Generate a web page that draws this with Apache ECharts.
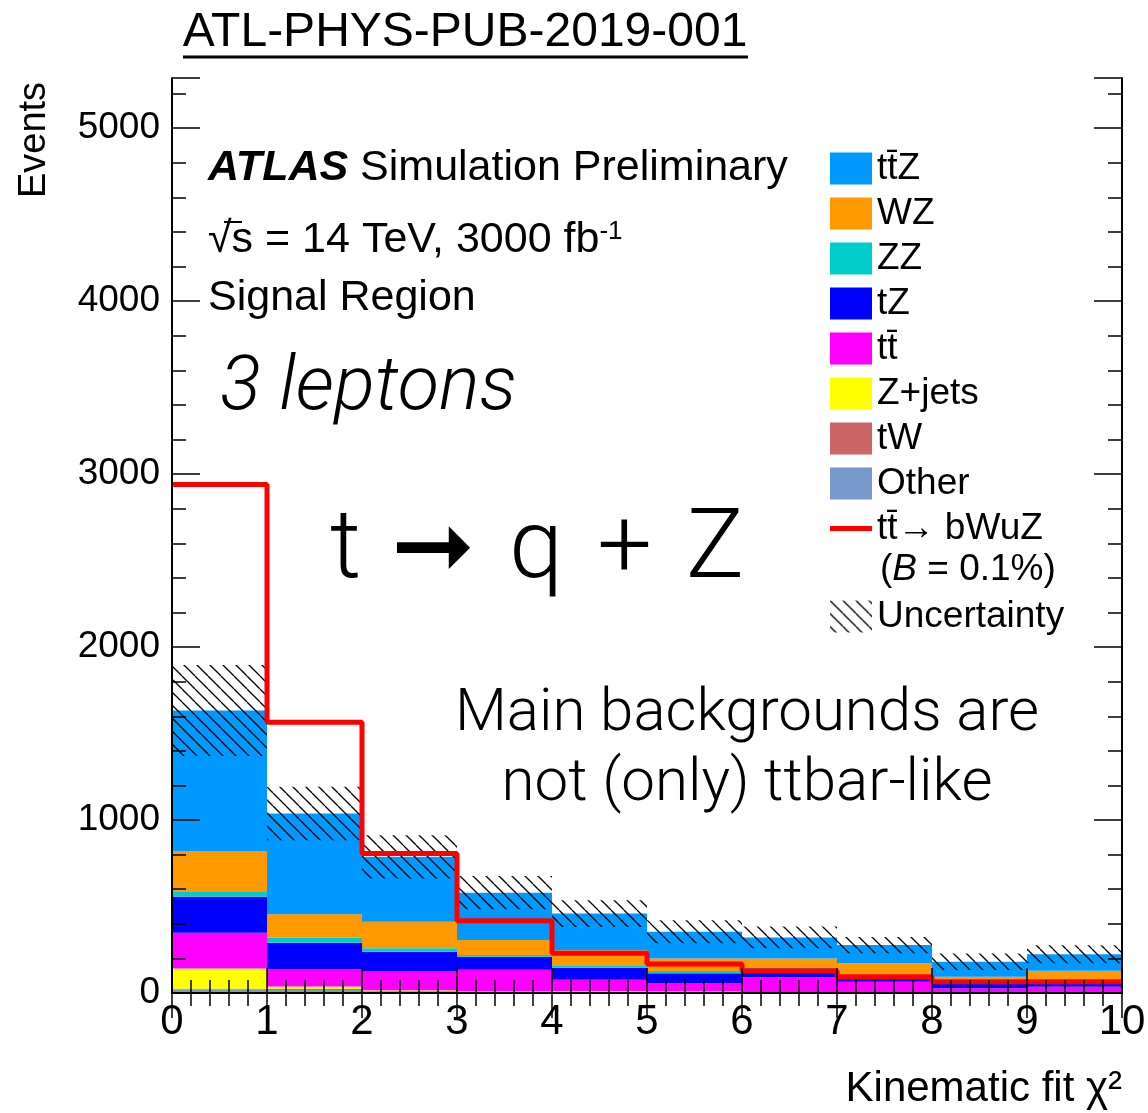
<!DOCTYPE html>
<html>
<head>
<meta charset="utf-8">
<script src="https://cdn.jsdelivr.net/npm/echarts@6/dist/echarts.min.js"></script>
<style>
  html, body { margin: 0; padding: 0; background: #ffffff; }
  #chart { width: 1148px; height: 1113px; }
</style>
</head>
<body>
<div id="chart"></div>
<script>
// Bin edges of the kinematic-fit chi2 histogram (10 bins of width 1)
const binEdges = [0, 1, 2, 3, 4, 5, 6, 7, 8, 9, 10];
const binLabels = ['0-1', '1-2', '2-3', '3-4', '4-5', '5-6', '6-7', '7-8', '8-9', '9-10'];

// Background yields per bin (events), stacked bottom to top
const other = [20, 18, 8, 6, 5, 3, 2, 1, 1, 1];
const tW    = [5, 5, 5, 4, 4, 3, 1, 1, 1, 1];
const zJets = [117, 15, 3, 2, 2, 2, 0, 0, 0, 0];
const ttbar = [207, 100, 111, 123, 66, 48, 88, 63, 25, 34];
const tZ    = [208, 152, 112, 75, 69, 58, 49, 33, 30, 22];
const zz    = [31, 29, 19, 10, 14, 13, 9, 7, 6, 6];
const wz    = [230, 137, 154, 86, 87, 73, 50, 67, 31, 65];
const ttZ   = [815, 582, 375, 274, 212, 154, 122, 105, 87, 95];

// Total background uncertainty per bin (events, symmetric)
const uncertainty = [263, 155, 125, 96, 77, 67, 63, 47, 48, 52];

// Signal: tt -> bWuZ with B = 0.1 %
const signal = [2940, 1565, 807, 418, 230, 168, 129, 94, 65, 65];

// Axis ticks
const yMajorTicks = [0, 1000, 2000, 3000, 4000, 5000];
const yMax = 5290;

const FONT = '"Liberation Sans", Arial, Helvetica, sans-serif';
const LIGHT = 'Roboto, "Noto Sans", sans-serif';

// Diagonal hatch used for the uncertainty band
function makeHatch(step) {
  const c = document.createElement('canvas');
  c.width = step; c.height = step;
  const g = c.getContext('2d');
  g.strokeStyle = '#000';
  g.lineWidth = 1.3;
  for (const o of [-step, 0, step]) {
    g.beginPath(); g.moveTo(o, 0); g.lineTo(o + step, step); g.stroke();
  }
  return c;
}
const hatch = { image: makeHatch(13), repeat: 'repeat' };

const layers = [
  { name: 'Other', data: other, color: '#7799cc' },
  { name: 'tW', data: tW, color: '#cc6666' },
  { name: 'Z+jets', data: zJets, color: '#ffff00' },
  { name: 'tt\u0304', data: ttbar, color: '#ff00ff' },
  { name: 'tZ', data: tZ, color: '#0000ff' },
  { name: 'ZZ', data: zz, color: '#00cccc' },
  { name: 'WZ', data: wz, color: '#ff9900' },
  { name: 'tt\u0304Z', data: ttZ, color: '#0099ff' }
];
const signalName = 'tt\u0304\u2192 bWuZ';

const totals = binLabels.map((_, i) => layers.reduce((s, l) => s + l.data[i], 0));
const bandData = binLabels.map((_, i) => [binEdges[i], binEdges[i + 1], totals[i] - uncertainty[i], totals[i] + uncertainty[i]]);
const signalSteps = binEdges.map((x, i) => [x, signal[Math.min(i, signal.length - 1)]]);

const barSeries = layers.map(l => ({
  name: l.name,
  type: 'bar',
  stack: 'bkg',
  xAxisIndex: 0,
  yAxisIndex: 0,
  barCategoryGap: '0%',
  barGap: '0%',
  data: l.data,
  itemStyle: { color: l.color, borderWidth: 0 },
  emphasis: { disabled: true },
  z: 2
}));

const blackLine = { show: true, lineStyle: { color: '#000', width: 2 } };

function xAxisValue(pos, labels) {
  return {
    type: 'value', position: pos, min: 0, max: 10, interval: 1,
    axisLine: blackLine,
    axisTick: { show: true, inside: true, length: 25, lineStyle: { color: '#000', width: 1.5 } },
    minorTick: { show: true, splitNumber: 5, length: 13, lineStyle: { color: '#000', width: 1.5 } },
    axisLabel: labels ? { show: true, fontFamily: FONT, fontSize: 42, color: '#000', margin: 8 } : { show: false },
    splitLine: { show: false }, minorSplitLine: { show: false },
    z: 10
  };
}
function yAxisMajor(pos, labels) {
  return {
    type: 'value', position: pos, min: 0, max: yMax, interval: 1000,
    axisLine: blackLine,
    axisTick: { show: true, inside: true, length: 28, lineStyle: { color: '#000', width: 1.5 } },
    axisLabel: labels ? {
      show: true, fontFamily: FONT, fontSize: 37, color: '#000', margin: 12,
      formatter: v => (yMajorTicks.indexOf(v) >= 0 ? String(v) : '')
    } : { show: false },
    splitLine: { show: false },
    z: 10
  };
}
function yAxisMinor(pos) {
  return {
    type: 'value', position: pos, min: 0, max: yMax, interval: 200,
    axisLine: { show: false },
    axisTick: { show: true, inside: true, length: 14, lineStyle: { color: '#000', width: 1.5 } },
    axisLabel: { show: false },
    splitLine: { show: false },
    z: 10
  };
}

const bigText = { fontFamily: LIGHT, fontWeight: 300, fontSize: 97, fill: '#000' };

const option = {
  animation: false,
  backgroundColor: '#ffffff',
  grid: { left: 172, right: 26, top: 78, bottom: 120, containLabel: false, outerBoundsMode: 'none' },
  xAxis: [
    { type: 'category', data: binLabels, show: false, boundaryGap: true },
    xAxisValue('bottom', true),
    xAxisValue('top', false)
  ],
  yAxis: [
    yAxisMajor('left', true),
    yAxisMinor('left'),
    yAxisMajor('right', false),
    yAxisMinor('right')
  ],
  legend: [
    {
      left: 825, top: 145, orient: 'vertical',
      itemWidth: 42, itemHeight: 32, itemGap: 8,
      selectedMode: false,
      textStyle: { fontFamily: FONT, fontSize: 37, color: '#000', lineHeight: 37 },
      data: [
        { name: 'tt\u0304Z', icon: 'rect' },
        { name: 'WZ', icon: 'rect' },
        { name: 'ZZ', icon: 'rect' },
        { name: 'tZ', icon: 'rect' },
        { name: 'tt\u0304', icon: 'rect' },
        { name: 'Z+jets', icon: 'rect' },
        { name: 'tW', icon: 'rect' },
        { name: 'Other', icon: 'rect' },
        { name: signalName, icon: 'path://M0,0 L42,0 L42,5 L0,5 Z' }
      ]
    },
    {
      left: 825, top: 593, orient: 'vertical',
      itemWidth: 42, itemHeight: 32,
      selectedMode: false,
      textStyle: { fontFamily: FONT, fontSize: 37, color: '#000', lineHeight: 37 },
      data: [{ name: 'Uncertainty', icon: 'rect', itemStyle: { color: hatch } }]
    }
  ],
  series: barSeries.concat([
    {
      name: 'Uncertainty',
      type: 'custom',
      xAxisIndex: 1,
      yAxisIndex: 0,
      data: bandData,
      encode: { x: [0, 1], y: [2, 3] },
      itemStyle: { color: hatch },
      z: 3,
      renderItem: function (params, api) {
        const p0 = api.coord([api.value(0), api.value(3)]);
        const p1 = api.coord([api.value(1), api.value(2)]);
        return {
          type: 'rect',
          shape: { x: p0[0], y: p0[1], width: p1[0] - p0[0], height: p1[1] - p0[1] },
          style: { fill: hatch, stroke: null }
        };
      }
    },
    {
      name: signalName,
      type: 'line',
      xAxisIndex: 1,
      yAxisIndex: 0,
      step: 'end',
      symbol: 'none',
      data: signalSteps,
      lineStyle: { color: '#ff0000', width: 5 },
      itemStyle: { color: '#ff0000' },
      emphasis: { disabled: true },
      z: 4
    }
  ]),
  graphic: [
    { type: 'text', x: 465, y: 33,
      style: { text: 'ATL-PHYS-PUB-2019-001', font: '48px ' + FONT, fill: '#000', textAlign: 'center', textVerticalAlign: 'middle' } },
    { type: 'line', shape: { x1: 183, y1: 57, x2: 748, y2: 57 }, style: { stroke: '#000', lineWidth: 3 } },
    { type: 'text', x: 208, y: 168,
      style: {
        text: '{b|ATLAS} Simulation Preliminary', font: '43px ' + FONT, fill: '#000', textVerticalAlign: 'middle',
        rich: { b: { fontFamily: FONT, fontSize: 43, fontWeight: 'bold', fontStyle: 'italic', fill: '#000' } }
      } },
    { type: 'text', x: 208, y: 240,
      style: {
        text: '\u221As = 14 TeV, 3000 fb{sup|-1}', font: '43px ' + FONT, fill: '#000', textVerticalAlign: 'middle',
        rich: { sup: { fontFamily: FONT, fontSize: 26, verticalAlign: 'top', fill: '#000' } }
      } },
    { type: 'line', shape: { x1: 224, y1: 222, x2: 242, y2: 222 }, style: { stroke: '#000', lineWidth: 2 } },
    { type: 'text', x: 208, y: 298,
      style: { text: 'Signal Region', font: '43px ' + FONT, fill: '#000', textVerticalAlign: 'middle' } },
    { type: 'text', x: 220, y: 390,
      style: { text: '3 leptons', font: 'italic 300 76px ' + LIGHT, fill: '#000', textVerticalAlign: 'middle' } },
    { type: 'text', x: 330, y: 553,
      style: {
        text: '{t|t}{a|\u279E}{g|q}{g|+}{g|Z}', font: '300 97px ' + LIGHT, fill: '#000', textVerticalAlign: 'middle',
        rich: {
          t: bigText,
          a: { fontFamily: '"DejaVu Sans", sans-serif', fontSize: 100, fill: '#000', padding: [0, 0, 0, 30] },
          g: Object.assign({ padding: [0, 0, 0, 34] }, bigText)
        }
      } },
    { type: 'text', x: 747, y: 715,
      style: { text: 'Main backgrounds are', font: '300 60px ' + LIGHT, fill: '#000', textAlign: 'center', textVerticalAlign: 'middle' } },
    { type: 'text', x: 747, y: 785,
      style: { text: 'not (only) ttbar-like', font: '300 60px ' + LIGHT, fill: '#000', textAlign: 'center', textVerticalAlign: 'middle' } },
    { type: 'text', x: 880, y: 570,
      style: {
        text: '({i|B} = 0.1%)', font: '37px ' + FONT, fill: '#000', textVerticalAlign: 'middle',
        rich: { i: { fontFamily: FONT, fontSize: 37, fontStyle: 'italic', fill: '#000' } }
      } },
    { type: 'text', x: 35, y: 140, rotation: Math.PI / 2,
      style: { text: 'Events', font: '38px ' + FONT, fill: '#000', textAlign: 'center', textVerticalAlign: 'middle' } },
    { type: 'text', x: 1122, y: 1089,
      style: { text: 'Kinematic fit \u03C7\u00B2', font: '42px ' + FONT, fill: '#000', textAlign: 'right', textVerticalAlign: 'middle' } }
  ]
};

const chart = echarts.init(document.getElementById('chart'), null, { renderer: 'canvas' });
chart.setOption(option);
</script>
</body>
</html>
